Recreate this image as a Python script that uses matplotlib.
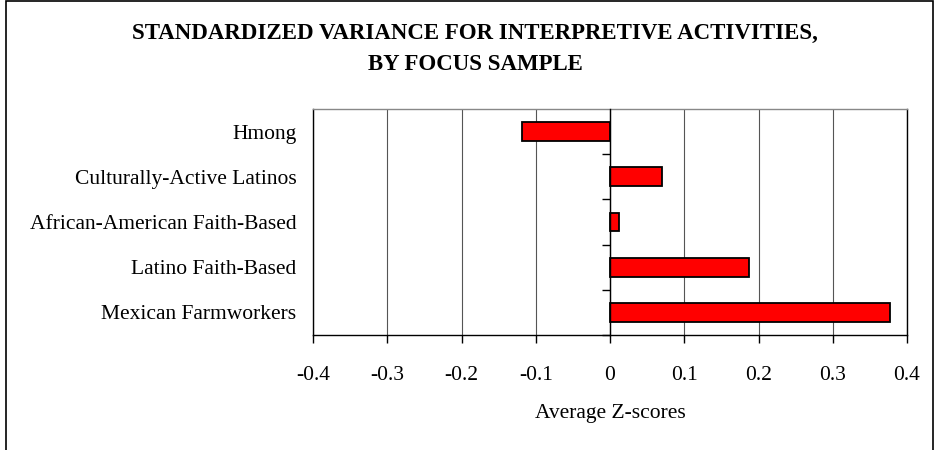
import matplotlib
matplotlib.use("Agg")
import matplotlib.pyplot as plt
from matplotlib.patches import Rectangle

# focus samples, listed top to bottom as in the chart
groups = ["Hmong", "Culturally-Active Latinos", "African-American Faith-Based",
          "Latino Faith-Based", "Mexican Farmworkers"]
z_scores = [-0.118, 0.07, 0.012, 0.187, 0.377]
x_ticks = [-0.4, -0.3, -0.2, -0.1, 0, 0.1, 0.2, 0.3, 0.4]
x_tick_labels = ["-0.4", "-0.3", "-0.2", "-0.1", "0", "0.1", "0.2", "0.3", "0.4"]

plt.rcParams["font.family"] = ["Liberation Serif", "DejaVu Serif"]
FS = 15.5

fig = plt.figure(figsize=(9.35, 4.5), dpi=100)
ax = fig.add_axes([313 / 935, 1 - 335 / 450, (907 - 313) / 935, (335 - 109) / 450])

pos = list(range(len(groups)))
ax.barh(pos, z_scores, height=0.42, color="#ff0000", edgecolor="black", linewidth=1.3, zorder=3)
ax.set_ylim(len(groups) - 0.5, -0.5)
ax.set_xlim(-0.4, 0.4)

ax.set_xticks(x_ticks)
ax.set_xticklabels(x_tick_labels, fontsize=FS)
ax.set_yticks(pos)
ax.set_yticklabels(groups, fontsize=FS)
ax.tick_params(axis="y", length=0, pad=12)
ax.tick_params(axis="x", direction="out", length=6, width=1, pad=16)
ax.grid(axis="x", color="#555555", linewidth=0.8, zorder=0)

for side in ["left", "right", "bottom"]:
    ax.spines[side].set_linewidth(1)
    ax.spines[side].set_color("black")
ax.spines["top"].set_color("#888888")
ax.spines["top"].set_linewidth(1)

ax.set_xlabel("Average Z-scores", fontsize=FS, labelpad=14)

# category axis sits at zero, with ticks between categories
ax2 = ax.twinx()
ax2.set_ylim(ax.get_ylim())
ax2.spines["right"].set_visible(False)
ax2.spines["top"].set_visible(False)
ax2.spines["bottom"].set_visible(False)
ax2.spines["left"].set_position(("data", 0))
ax2.spines["left"].set_linewidth(1)
ax2.yaxis.set_ticks_position("left")
ax2.set_yticks([p + 0.5 for p in pos])
ax2.set_yticklabels([])
ax2.tick_params(axis="y", direction="out", length=6, width=1)

fig.text(475 / 935, 1 - 33 / 450, "STANDARDIZED VARIANCE FOR INTERPRETIVE ACTIVITIES,",
         ha="center", va="center", fontsize=16.5, fontweight="bold")
fig.text(475 / 935, 1 - 64 / 450, "BY FOCUS SAMPLE",
         ha="center", va="center", fontsize=16.5, fontweight="bold")

fig.add_artist(Rectangle((6 / 935, -0.1), 927 / 935, 1.1 - 1 / 450, transform=fig.transFigure,
                         fill=False, edgecolor="black", linewidth=1.2))

fig.savefig("out.png", dpi=100)
